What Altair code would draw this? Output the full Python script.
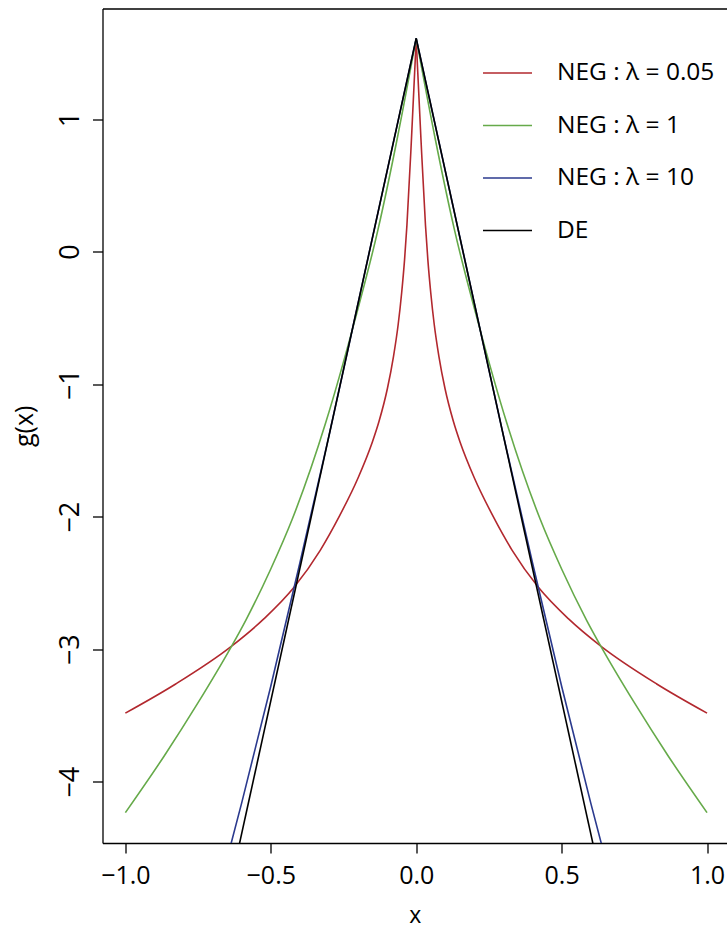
import altair as alt
import pandas as pd

# ---- values (right half; curves are symmetric about x = 0) ----
red_x = [0, 0.016, 0.032, 0.04, 0.05, 0.062, 0.078, 0.099, 0.128, 0.151, 0.2, 0.265, 0.33, 0.42, 0.523, 0.638, 0.827, 1.0]
red_y = [1.6, 0.864, 0.196, -0.06, -0.31, -0.55, -0.79, -1.033, -1.282, -1.438, -1.708, -2.0, -2.254, -2.533, -2.77, -2.983, -3.263, -3.483]

green_x = [0, 0.065, 0.131, 0.2124, 0.311, 0.426, 0.5, 0.586, 0.638, 0.75, 0.867, 1.0]
green_y = [1.609, 0.856, 0.17, -0.53, -1.29, -2.018, -2.395, -2.782, -2.99, -3.404, -3.808, -4.234]

blue_x = [0, 0.1, 0.2, 0.3, 0.4, 0.5, 0.6, 0.65]
blue_y = [1.609, 0.61, -0.39, -1.39, -2.35, -3.28, -4.16, -4.58]

de_x = [0, 0.65]
de_y = [1.609, -4.891]

labels = ["NEG : λ = 0.05", "NEG : λ = 1", "NEG : λ = 10", "DE"]
colors = ["#B2282E", "#66AA4A", "#2B3A8E", "#000000"]

x_ticks = [-1.0, -0.5, 0.0, 0.5, 1.0]
y_ticks = [-4, -3, -2, -1, 0, 1]


def build(name, xs, ys):
    rows = []
    for side, sgn in (("L", -1), ("R", 1)):
        for x, y in zip(xs, ys):
            rows.append({"series": name, "side": side, "x": sgn * x, "y": y})
    return rows


neg_rows = build(labels[0], red_x, red_y) + build(labels[1], green_x, green_y) + build(labels[2], blue_x, blue_y)
de_rows = build(labels[3], de_x, de_y)
df_neg = pd.DataFrame(neg_rows)
df_de = pd.DataFrame(de_rows)

FONT = "Open Sans"
xscale = alt.Scale(domain=[-1.0786, 1.0686], nice=False, zero=False)
yscale = alt.Scale(domain=[-4.463, 1.835], nice=False, zero=False)

color = alt.Color(
    "series:N",
    scale=alt.Scale(domain=labels, range=colors),
    legend=alt.Legend(
        orient="none", legendX=379.5, legendY=39, title=None,
        symbolType="stroke", symbolSize=2401, symbolStrokeWidth=1.6,
        labelFontSize=24.5, labelFont=FONT, labelColor="black", labelOffset=24,
        labelLimit=400, rowPadding=15.5, padding=0,
    ),
)

neg = alt.Chart(df_neg).mark_line(clip=True, strokeWidth=1.6, interpolate="monotone").encode(
    x=alt.X("x:Q", scale=xscale, axis=alt.Axis(
        values=x_ticks, format=".1f", title="x", grid=False,
        domainColor="black", domainWidth=1.3, tickColor="black", tickWidth=1.3, tickSize=10,
        labelFont=FONT, labelFontSize=25, labelColor="black", labelPadding=10, labelFlush=False,
        titleFont=FONT, titleFontSize=23, titleFontWeight="normal", titleColor="black",
        titleBaseline="alphabetic", titleY=79,
    )),
    y=alt.Y("y:Q", scale=yscale, axis=alt.Axis(
        values=y_ticks, format="d", title="g(x)", grid=False,
        domainColor="black", domainWidth=1.3, tickColor="black", tickWidth=1.3, tickSize=10,
        labelFont=FONT, labelFontSize=27, labelColor="black", labelPadding=14,
        labelAngle=270, labelAlign="center", labelBaseline="alphabetic", labelFlush=False,
        titleFont=FONT, titleFontSize=25, titleFontWeight="normal", titleColor="black",
        titleBaseline="alphabetic", titleX=-70,
    )),
    color=color,
    detail="side:N",
)

de = alt.Chart(df_de).mark_line(clip=True, strokeWidth=1.6).encode(
    x=alt.X("x:Q", scale=xscale, axis=alt.Axis(
        orient="top", labels=False, ticks=False, title=None, grid=False,
        domain=True, domainColor="black", domainWidth=1.3,
    )),
    y=alt.Y("y:Q", scale=yscale, axis=None),
    color=color,
    detail="side:N",
)

chart = (
    alt.layer(neg, de)
    .resolve_axis(x="independent", y="independent")
    .properties(
        width=624.5, height=834.5,
        autosize=alt.AutoSizeParams(type="none"),
        padding={"left": 102.5, "top": 8.5, "right": 0, "bottom": 86},
        background="white",
    )
    .configure_view(stroke=None)
)

chart.save("out.html", embed_options={"renderer": "svg", "actions": False})
